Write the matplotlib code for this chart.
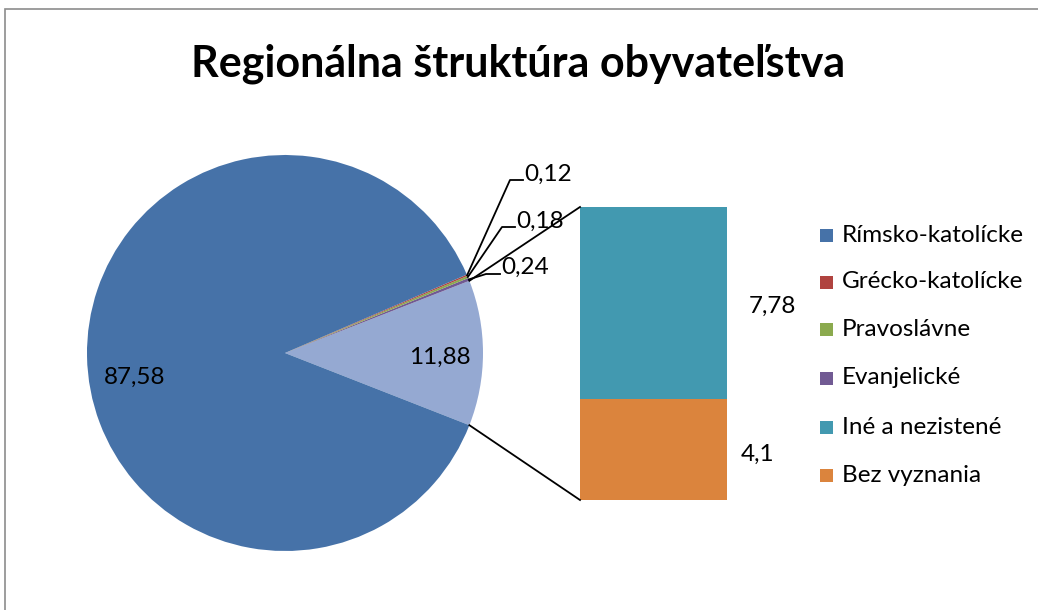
import numpy as np
import matplotlib
matplotlib.use('Agg')
from matplotlib import pyplot as plt
from matplotlib.patches import Rectangle

plt.rcParams['font.family'] = ['Lato', 'DejaVu Sans']

# data
title = 'Regionálna štruktúra obyvateľstva'
categories = ['Rímsko-katolícke', 'Grécko-katolícke', 'Pravoslávne',
              'Evanjelické', 'Iné a nezistené', 'Bez vyznania']
values = [87.58, 0.12, 0.18, 0.24, 7.78, 4.1]
value_labels = ['87,58', '0,12', '0,18', '0,24', '7,78', '4,1']
other_label = '11,88'
colors = ['#4672A8', '#B0433F', '#8BAA4E', '#715A93', '#4299B0', '#DB843D']
other_color = '#95A9D2'

W, H = 1038, 610
fig = plt.figure(figsize=(W / 100, H / 100), dpi=100)
ax = fig.add_axes([0, 0, 1, 1])
ax.set_xlim(0, W)
ax.set_ylim(0, H)
ax.set_aspect('equal')
ax.axis('off')

def py(y):  # pixel row -> data y
    return H - y

# chart border
ax.add_patch(Rectangle((5, -5), W, py(9) + 5, fill=False, ec='#8c8c8c', lw=1.2))

ax.text(518, py(64), title, ha='center', va='center', fontsize=31,
        fontweight='bold', color='black')

# pie: "other" slice first (counter-clockwise), then small ones, then the big one
main_vals = values[:4]
other_val = sum(values[4:])
pie_vals = [other_val, main_vals[3], main_vals[2], main_vals[1], main_vals[0]]
pie_cols = [other_color, colors[3], colors[2], colors[1], colors[0]]
cx, cy, r = 285, py(353), 198
start = -other_val / 100 * 360 / 2
ax.pie(pie_vals, colors=pie_cols, center=(cx, cy), radius=r, startangle=start,
       counterclock=True, wedgeprops=dict(linewidth=0), frame=True)
ax.set_xlim(0, W)
ax.set_ylim(0, H)
ax.axis('off')

# bar for the "other" breakdown
bx, bw = 580, 147
b_top, b_bot = py(207), py(500)
scale = (b_top - b_bot) / other_val
bottom = b_bot
for v, c in [(values[5], colors[5]), (values[4], colors[4])]:
    ax.bar(bx + bw / 2, v * scale, width=bw, bottom=bottom, color=c, linewidth=0)
    bottom += v * scale

# connector lines
a1 = np.deg2rad(-start)
a0 = np.deg2rad(start)
ax.plot([cx + r * np.cos(a1), bx], [cy + r * np.sin(a1), b_top], color='black', lw=1.3)
ax.plot([cx + r * np.cos(a0), bx], [cy + r * np.sin(a0), b_bot], color='black', lw=1.3)

# labels
fs = 17.5
ax.text(135, py(377), value_labels[0], ha='center', va='center', fontsize=fs)
ax.text(440, py(357), other_label, ha='center', va='center', fontsize=fs)
ax.text(772, py(306), value_labels[4], ha='center', va='center', fontsize=fs)
ax.text(758, py(454), value_labels[5], ha='center', va='center', fontsize=fs)

# small slice leader lines
cum = other_val
bends = {3: ((486, 274), (500, 274), (501, 267)),
         2: ((502, 227), (515, 227), (516, 221)),
         1: ((510, 180), (523, 180), (524, 174))}
for idx in [3, 2, 1]:
    mid = start + (cum + values[idx] / 2) / 100 * 360
    cum += values[idx]
    ang = np.deg2rad(mid)
    sx, sy = cx + r * np.cos(ang), cy + r * np.sin(ang)
    (kx, ky), (ex, ey), (tx, ty) = bends[idx]
    ax.plot([sx, kx, ex], [sy, py(ky), py(ey)], color='black', lw=1.3)
    ax.text(tx, py(ty), value_labels[idx], ha='left', va='center', fontsize=fs)

# legend
leg_y = [235, 282, 329, 378, 427, 475]
for lab, c, y in zip(categories, colors, leg_y):
    ax.add_patch(Rectangle((820, py(y) - 6.5), 13, 13, color=c, lw=0))
    ax.text(842, py(y), lab, ha='left', va='center', fontsize=fs)

fig.savefig('out.png', dpi=100)
